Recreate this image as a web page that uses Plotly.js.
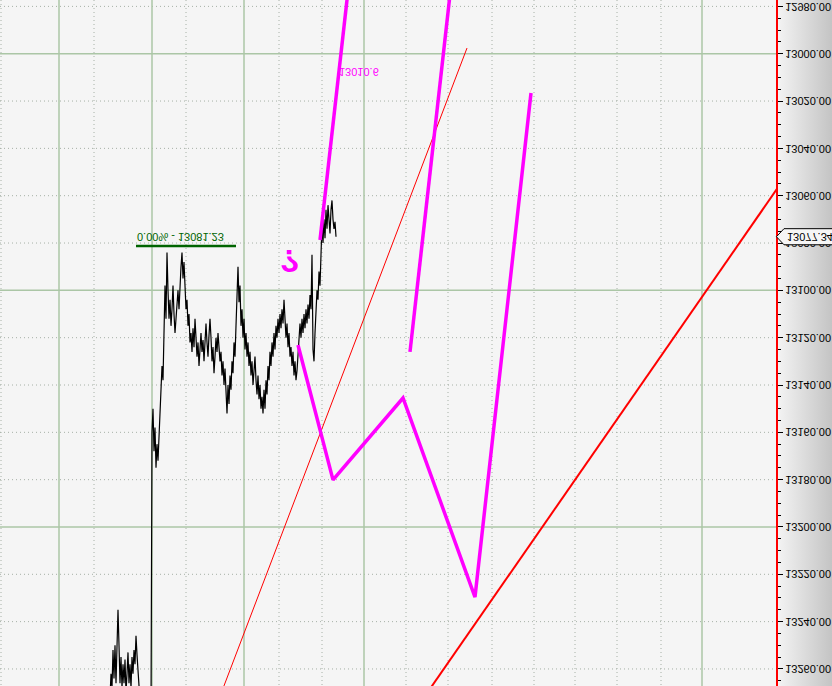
<!DOCTYPE html>
<html><head><meta charset="utf-8">
<script src="https://cdn.plot.ly/plotly-3.0.1.min.js"></script>
<style>
html,body{margin:0;padding:0;background:#f5f5f5;overflow:hidden;}
#chart{width:832px;height:686px;transform:scaleY(-1);
background:linear-gradient(to right,#f5f5f5 0px,#f5f5f5 776px,#f3f3f3 778px,#c4c4c4 832px);}
</style></head><body><div id="chart"></div>
<script>
// ---- data (bar index on x, price on y) ----
const firstBar = 110;
const closePrices = [
 13272,13262,13268,13252,13264,13250,13266,13245,13235,13250,13266,13255,13268,13258,13266,13256,13270,13262,13253,13266,13258,13268,13255,13262,13252,13258,13246,13254,13262,13270,13276,
 13280,13278,13282,13279,13284,13281,13285,13283,13280,13282,13278,
 13160,13150,13168,13158,13175,13165,13172,13160,13155,13140,13132,13138,13120,13098,13112,
 13084,13100,13112,13104,13115,13108,13098,13110,13118,13112,13105,13100,13108,13094,13090,13084,13095,13088,13100,13108,13104,13115,13110,13122,13118,13126,13116,13124,13112,13120,13128,13122,13132,13125,
 13118,13126,13121,13130,13120,13114,13122,13128,13119,13112,13120,13130,13124,13135,13128,13120,13126,13118,13124,13130,13126,13136,13130,13140,13133,13145,13152,13140,13148,13136,13142,13130,13135,13122,13128,13115,
 13100,13090,13105,13098,13115,13108,13120,13112,13125,13118,13128,13122,13132,13126,13136,13130,13140,13134,13128,13138,13144,13136,13146,13140,13150,13145,13152,13142,13150,13138,13144,13132,13138,13126,
 13132,13122,13128,13118,13125,13115,13120,13112,13118,13110,13116,13108,13114,13104,13112,13120,13114,13124,13118,13128,13124,13132,13126,13136,13130,13138,13134,13126,13120,13114,
 13120,13112,13118,13110,13116,13108,13114,13106,13112,13102,13108,13085,13125,13130,13118,13110,13100,13104,13092,13098,13084,13072,13080,13070,13078,13066,13074,13064,13070,13076,13066,13062,13070,13074,13071,13077.34
];
const lastPrice = 13077.34;

const waveBars   = [298, 333, 403, 475, 531];
const wavePrices = [13123.1, 13180.1, 13145.5, 13229.6, 13016.6];
const projABars = [320, 347.6];  const projAPrices = [13078.7, 12975];
const projCBars = [410, 450];    const projCPrices = [13126.0, 12975];
const thinRedBars = [218.7, 467]; const thinRedPrices = [13273.0, 12997.6];
const thickRedBars = [429, 780];  const thickRedPrices = [13269.0, 13055.3];
const fibBars = [136, 236];       const fibPrice = 13081.23;
const fibLabel = "0.00% - 13081.23";
const projLabel = "13010.6";
const waveLabel = "?";

const solidGridBars = [59, 152, 244, 364, 702];
const dottedGridBars = [1, 94, 186, 279, 322, 406, 448, 492, 534, 575, 617, 661];
const solidGridPrices = [13000, 13100, 13200];
const dottedGridPrices = [12980, 13020, 13040, 13060, 13080, 13120, 13140, 13160, 13180, 13220, 13240, 13260];

const priceBars = closePrices.map((_, i) => firstBar + i);

// ---- traces ----
const traces = [
  {x: priceBars, y: closePrices, type: 'scatter', mode: 'lines', line: {color: '#000000', width: 1.2}},
  {x: thinRedBars, y: thinRedPrices, mode: 'lines', line: {color: '#ff0000', width: 1}},
  {x: thickRedBars, y: thickRedPrices, mode: 'lines', line: {color: '#ff0000', width: 2}},
  {x: waveBars, y: wavePrices, mode: 'lines', line: {color: '#ff00ff', width: 3.5}},
  {x: projABars, y: projAPrices, mode: 'lines', line: {color: '#ff00ff', width: 3.5}},
  {x: projCBars, y: projCPrices, mode: 'lines', line: {color: '#ff00ff', width: 3.5}},
  {x: fibBars, y: [fibPrice, fibPrice], mode: 'lines', line: {color: '#006400', width: 2.5}}
];

// ---- grid shapes ----
const shapes = [];
const solidCol = '#abc6a6', dotCol = '#a6b0a6';
dottedGridBars.forEach(b => shapes.push({type:'line', layer:'below', xref:'x', yref:'paper', x0:b, x1:b, y0:0, y1:1, line:{color:dotCol, width:1, dash:'1px,3px'}}));
dottedGridPrices.forEach(p => shapes.push({type:'line', layer:'below', xref:'paper', yref:'y', x0:0, x1:1, y0:p, y1:p, line:{color:dotCol, width:1, dash:'1px,3px'}}));
solidGridBars.forEach(b => shapes.push({type:'line', layer:'below', xref:'x', yref:'paper', x0:b, x1:b, y0:0, y1:1, line:{color:solidCol, width:1.5}}));
solidGridPrices.forEach(p => shapes.push({type:'line', layer:'below', xref:'paper', yref:'y', x0:0, x1:1, y0:p, y1:p, line:{color:solidCol, width:1.5}}));
// current price tag
const h = 3.4;
shapes.push({type:'path', layer:'above', xref:'paper', yref:'y',
  path: `M 1.0006,${lastPrice} L 1.0103,${lastPrice-h} L 1.075,${lastPrice-h} L 1.075,${lastPrice+h} L 1.0103,${lastPrice+h} Z`,
  fillcolor:'#f6f6f6', line:{color:'#000000', width:1}});

const smallFont = {family:'Liberation Sans, Arial, sans-serif', size:11};
const annotations = [
  {x: fibBars[0], y: 13077.4, xref:'x', yref:'y', text: fibLabel, showarrow:false, xanchor:'left', yanchor:'middle',
   font: Object.assign({}, smallFont, {color:'#006400'}), borderpad:0},
  {x: 338, y: 13007.8, xref:'x', yref:'y', text: projLabel, showarrow:false, xanchor:'left', yanchor:'middle',
   font: Object.assign({}, smallFont, {color:'#ff00ff'}), borderpad:0},
  {x: 290, y: 13087.5, xref:'x', yref:'y', text: '<b>' + waveLabel + '</b>', showarrow:false, xanchor:'center', yanchor:'middle',
   font: {family:'Liberation Sans, Arial, sans-serif', size:32, color:'#ff00ff'}, borderpad:0},
  {x: 1.013, y: lastPrice, xref:'paper', yref:'y', text: lastPrice.toFixed(2), showarrow:false, xanchor:'left', yanchor:'middle',
   font: Object.assign({}, smallFont, {color:'#000000'}), borderpad:0}
];

const layout = {
  width: 832, height: 686,
  margin: {l:0, r:56, t:0, b:0, pad:0},
  paper_bgcolor: 'rgba(0,0,0,0)',
  plot_bgcolor: '#f5f5f5',
  showlegend: false,
  xaxis: {range:[0, 776], showticklabels:false, showgrid:false, zeroline:false, ticks:'', showline:false, fixedrange:true},
  yaxis: {side:'right', range:[12977.3, 13267.2], tick0:12980, dtick:20, tickformat:'.2f',
    ticks:'outside', ticklen:5, tickcolor:'#000000', tickwidth:1,
    showline:true, linecolor:'#ff0000', linewidth:2, showgrid:false, zeroline:false,
    tickfont: Object.assign({}, smallFont, {color:'#000000'}),
    minor:{dtick:5, tick0:12980, ticks:'outside', ticklen:3, tickcolor:'#000000', showgrid:false}},
  shapes: shapes,
  annotations: annotations
};

Plotly.newPlot('chart', traces, layout, {displayModeBar:false, staticPlot:true});
</script></body></html>
